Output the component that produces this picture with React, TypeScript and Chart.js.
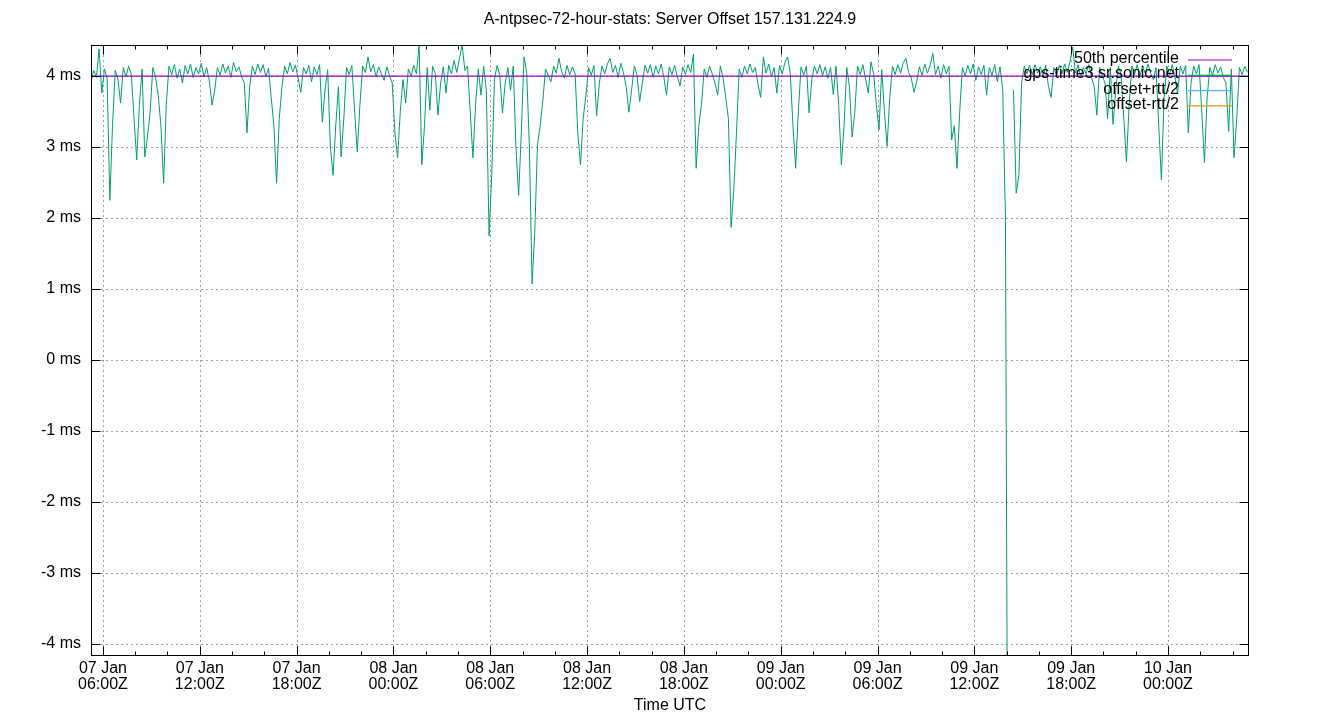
import { useEffect, useRef } from 'react';
import { Chart, registerables, Plugin } from 'chart.js';

Chart.register(...registerables);

const TITLE = 'A-ntpsec-72-hour-stats: Server Offset 157.131.224.9';
const X_TITLE = 'Time UTC';
const SERVER = 'gps-time3.sr.sonic.net';
const FONT = '"Liberation Sans", Arial, sans-serif';

// x values are hours since 07 Jan 00:00Z, one sample every 10 minutes
const START_HOUR = 5.26;
const STEP_HOURS = 1 / 6;
const X_MIN = 5.26;
const X_MAX = 77.02;
const Y_MIN = -4.169;
const Y_MAX = 4.437;

const X_TICKS = [6, 12, 18, 24, 30, 36, 42, 48, 54, 60, 66, 72];
const DAY_LABELS = ['07 Jan', '08 Jan', '09 Jan', '10 Jan'];
const Y_TICKS = [-4, -3, -2, -1, 0, 1, 2, 3, 4];

const MEDIAN_MS = 4.0;

// offset in ms (null = missing sample)
const OFFSET_MS: (number | null)[] = [
  3.92, 4.08, 3.98, 4.38, 3.76, 4.1, 3.97, 2.25, 3.3, 4.08,
  3.96, 3.62, 4.12, 3.99, 4.14, 4.02, 3.4, 2.82, 3.6, 4.1,
  2.86, 3.14, 3.5, 4.12, 3.98, 3.73, 3.3, 2.49, 3.6, 4.14,
  4.02, 4.16, 3.97, 4.1, 3.9, 4.15, 4.03, 4.17, 3.98, 4.12,
  4.03, 4.18, 3.99, 4.12, 3.93, 3.59, 3.8, 4.12, 4.01, 4.17,
  4.04, 4.14, 3.98, 4.19, 4.06, 4.13, 3.99, 3.9, 3.2, 3.85,
  4.14, 4.02, 4.17, 4.05, 4.16, 3.99, 4.11, 3.7, 3.3, 2.49,
  3.4, 3.85, 4.14, 4.03, 4.19, 4.06, 4.15, 3.97, 3.77, 4.12,
  4.03, 4.15, 3.92, 4.13, 4.02, 4.16, 3.35, 3.8, 4.09, 3.0,
  2.6, 3.3, 3.85, 2.86, 3.4, 4.12, 4.02, 4.15, 3.52, 2.93,
  3.6, 4.14, 4.05, 4.27, 4.06, 4.16, 3.99, 4.13, 4.03, 3.94,
  4.13, 4.01, 3.9, 3.2, 2.85, 3.5, 3.95, 3.62, 4.1, 4.0,
  4.15, 4.03, 4.44, 2.75, 3.3, 4.12, 3.52, 4.14, 4.04, 3.45,
  3.9, 4.13, 3.76, 4.15, 4.03, 4.22, 4.05, 4.25, 4.44, 4.08,
  4.14, 3.5, 2.85, 3.6, 4.1, 3.73, 4.14, 3.8, 1.75, 2.6,
  3.95, 4.15, 4.01, 3.48, 3.9, 4.12, 3.8, 4.14, 3.0, 2.32,
  3.2, 4.27, 4.05, 3.0, 1.07, 1.8, 3.03, 3.3, 3.65, 4.1,
  4.01, 3.92, 4.14, 4.04, 4.25, 4.06, 3.97, 4.15, 4.02, 4.13,
  4.03, 3.2, 2.75, 3.4, 3.72, 4.12, 4.01, 4.15, 3.44, 3.9,
  4.14, 4.03, 4.17, 4.25, 4.05, 4.15, 3.98, 4.18, 4.04, 3.85,
  3.49, 3.8, 4.14, 4.02, 3.64, 3.9, 4.15, 4.04, 4.16, 3.98,
  4.14, 4.03, 4.17, 3.98, 3.73, 4.13, 4.02, 4.15, 3.99, 3.86,
  4.13, 4.02, 4.16, 4.05, 4.31, 2.7, 3.3, 3.6, 4.1, 3.98,
  4.14, 4.03, 3.9, 3.73, 4.14, 3.97, 3.7, 3.4, 1.87, 2.4,
  3.2, 4.1, 3.98, 4.14, 4.03, 4.17, 4.05, 4.12, 3.88, 3.7,
  4.27, 4.04, 4.17, 3.99, 4.12, 3.76, 4.15, 4.03, 4.19, 4.27,
  4.04, 3.3, 2.7, 3.5, 4.13, 4.01, 4.14, 3.48, 3.95, 4.14,
  4.03, 4.16, 4.01, 4.13, 3.97, 4.12, 3.74, 4.14, 3.6, 2.75,
  3.3, 4.12, 3.85, 3.14, 3.49, 4.14, 4.02, 4.16, 3.96, 3.76,
  4.2, 4.03, 3.6, 3.24, 4.09, 3.5, 3.01, 3.7, 4.14, 4.02,
  4.16, 4.04, 4.19, 4.25, 4.05, 3.97, 3.77, 3.92, 4.13, 4.01,
  4.17, 4.04, 4.15, 4.32, 4.02, 4.14, 3.97, 4.16, 4.03, 4.14,
  3.1, 3.3, 2.7, 3.5, 4.12, 4.0, 4.15, 4.03, 4.17, 3.94,
  4.13, 4.02, 4.15, 3.73, 4.12, 4.01, 4.16, 3.92, 4.13, 3.8,
  2.0, -8.0, null, 3.8, 2.35, 2.6, 3.9, 4.14, 4.03, 4.15,
  4.02, 4.16, 4.04, 4.13, 3.98, 4.15, 3.85, 3.7, 4.12, 4.01,
  4.15, 4.03, 4.17, 4.05, 4.2, 4.41, 4.04, 4.16, 3.99, 4.12,
  4.03, 4.16, 3.98, 3.85, 3.45, 4.12, 4.01, 3.9, 3.4, 4.12,
  3.32, 3.8, 4.14, 4.02, 3.4, 2.79, 3.6, 4.14, 4.02, 4.16,
  3.99, 4.15, 4.03, 4.17, 4.04, 3.95, 4.12, 3.3, 2.54, 3.7,
  4.14, 4.02, 4.16, 3.99, 3.75, 4.14, 4.03, 4.15, 3.2, 3.9,
  4.14, 4.03, 4.16, 3.5, 2.78, 3.7, 4.12, 4.01, 4.16, 4.04,
  4.13, 3.98, 3.9, 3.22, 4.1, 2.85, 3.4, 4.12, 4.02, 4.14,
  4.05,
];

const xTickLabel = (h: number) => [
  DAY_LABELS[Math.floor(h / 24)],
  `${String(h % 24).padStart(2, '0')}:00Z`,
];

const gnuplotFrame: Plugin<'line'> = {
  id: 'gnuplotFrame',
  beforeDatasetsDraw(chart) {
    const { ctx, chartArea: a } = chart;
    const xs = chart.scales.x;
    const ys = chart.scales.y;
    ctx.save();
    ctx.strokeStyle = '#a0a0a0';
    ctx.lineWidth = 1;
    ctx.setLineDash([2, 3]);
    ctx.beginPath();
    X_TICKS.forEach((h) => {
      const px = Math.round(xs.getPixelForValue(h)) + 0.5;
      ctx.moveTo(px, a.top);
      ctx.lineTo(px, a.bottom);
    });
    Y_TICKS.forEach((v) => {
      const py = Math.round(ys.getPixelForValue(v)) + 0.5;
      ctx.moveTo(a.left, py);
      ctx.lineTo(a.right, py);
    });
    ctx.stroke();
    ctx.restore();
  },
  afterDatasetsDraw(chart) {
    const { ctx, chartArea: a } = chart;
    const xs = chart.scales.x;
    const ys = chart.scales.y;
    const L = Math.round(a.left) + 0.5;
    const R = Math.round(a.right) - 0.5;
    const T = Math.round(a.top) + 0.5;
    const B = Math.round(a.bottom) - 0.5;
    ctx.save();
    ctx.strokeStyle = '#000';
    ctx.lineWidth = 1;
    ctx.setLineDash([]);
    ctx.beginPath();
    // x ticks, major every 6 h, minor every 2 h, mirrored on top
    for (let h = 2; h <= X_MAX; h += 2) {
      if (h < X_MIN) continue;
      const len = X_TICKS.includes(h) ? 9 : 4;
      const px = Math.round(xs.getPixelForValue(h)) + 0.5;
      ctx.moveTo(px, B);
      ctx.lineTo(px, B - len);
      ctx.moveTo(px, T);
      ctx.lineTo(px, T + len);
    }
    Y_TICKS.forEach((v) => {
      const py = Math.round(ys.getPixelForValue(v)) + 0.5;
      ctx.moveTo(L, py);
      ctx.lineTo(L + 9, py);
      ctx.moveTo(R, py);
      ctx.lineTo(R - 9, py);
    });
    ctx.stroke();
    ctx.strokeRect(L, T, R - L, B - T);

    // key, gnuplot style: right aligned text, sample line on the right
    ctx.font = `16px ${FONT}`;
    ctx.textAlign = 'right';
    ctx.textBaseline = 'middle';
    chart.data.datasets.forEach((ds, k) => {
      const yy = a.top + 13.5 + k * 15.3;
      ctx.fillStyle = '#000';
      ctx.fillText(ds.label as string, a.right - 70, yy);
      ctx.strokeStyle = ds.borderColor as string;
      ctx.lineWidth = 1.2;
      ctx.beginPath();
      ctx.moveTo(a.right - 61, yy + 1.5);
      ctx.lineTo(a.right - 17, yy + 1.5);
      ctx.stroke();
    });

    ctx.textAlign = 'center';
    ctx.fillStyle = '#000';
    ctx.fillText(TITLE, (a.left + a.right) / 2, 20);
    ctx.fillText(X_TITLE, (a.left + a.right) / 2, 706);
    ctx.restore();
  },
};

const App = () => {
  const canvasRef = useRef<HTMLCanvasElement>(null);
  const chartRef = useRef<Chart | null>(null);

  useEffect(() => {
    document.body.style.margin = '0';
    if (!canvasRef.current) return;
    if (chartRef.current) chartRef.current.destroy();

    const offsetPoints = OFFSET_MS.map((v, i) => ({ x: START_HOUR + i * STEP_HOURS, y: v }));

    chartRef.current = new Chart(canvasRef.current, {
      type: 'line',
      data: {
        datasets: [
          {
            label: '50th percentile',
            data: [
              { x: X_MIN, y: MEDIAN_MS },
              { x: X_MAX, y: MEDIAN_MS },
            ],
            borderColor: '#9400d3',
            borderWidth: 1.3,
            pointRadius: 0,
            order: 0,
          },
          {
            label: SERVER,
            data: offsetPoints,
            borderColor: '#009e73',
            borderWidth: 1,
            pointRadius: 0,
            tension: 0,
            spanGaps: false,
            order: 1,
          },
          {
            label: 'offset+rtt/2',
            data: [],
            borderColor: '#56b4e9',
            borderWidth: 1,
            pointRadius: 0,
          },
          {
            label: 'offset-rtt/2',
            data: [],
            borderColor: '#e69f00',
            borderWidth: 1,
            pointRadius: 0,
          },
        ],
      },
      options: {
        animation: false,
        responsive: true,
        maintainAspectRatio: false,
        events: [],
        layout: { padding: { top: 45, right: 91, left: 0, bottom: 0 } },
        plugins: {
          legend: { display: false },
          title: { display: false },
          tooltip: { enabled: false },
        },
        scales: {
          x: {
            type: 'linear',
            min: X_MIN,
            max: X_MAX,
            grid: { display: false, drawTicks: false },
            border: { display: false },
            afterBuildTicks: (scale) => {
              scale.ticks = X_TICKS.map((value) => ({ value }));
            },
            afterFit: (scale) => {
              scale.height = 64;
            },
            ticks: {
              autoSkip: false,
              maxRotation: 0,
              padding: 5,
              color: '#000',
              font: { family: FONT, size: 16, lineHeight: 1 },
              callback: (value) => xTickLabel(Number(value)),
            },
          },
          y: {
            type: 'linear',
            min: Y_MIN,
            max: Y_MAX,
            grid: { display: false, drawTicks: false },
            border: { display: false },
            afterBuildTicks: (scale) => {
              scale.ticks = Y_TICKS.map((value) => ({ value }));
            },
            afterFit: (scale) => {
              scale.width = 91;
            },
            ticks: {
              padding: 10,
              color: '#000',
              font: { family: FONT, size: 16 },
              callback: (value) => `${value} ms`,
            },
          },
        },
      },
      plugins: [gnuplotFrame],
    });

    return () => {
      if (chartRef.current) {
        chartRef.current.destroy();
        chartRef.current = null;
      }
    };
  }, []);

  return (
    <div style={{ position: 'relative', width: 1340, height: 720, background: '#fff' }}>
      <canvas ref={canvasRef} />
    </div>
  );
};

export default App;
